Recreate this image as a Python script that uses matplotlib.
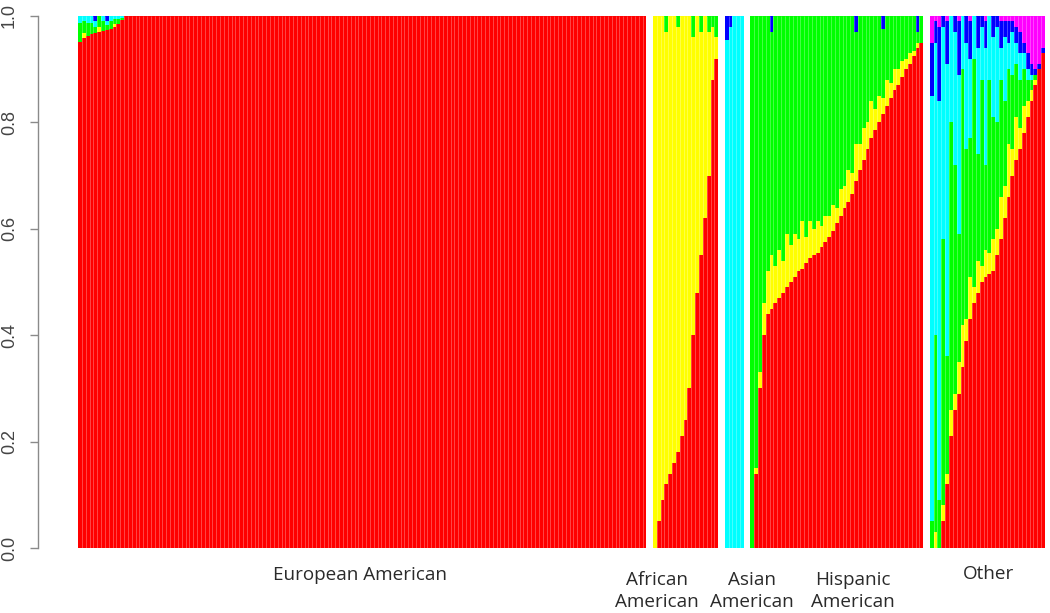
import numpy as np
import matplotlib.pyplot as plt

# ancestry proportions per individual, clusters K1..K6 (red, yellow, green, cyan, blue, magenta)
group_names = ["European American", "African\nAmerican", "Asian\nAmerican", "Hispanic\nAmerican", "Other"]
cluster_colors = ["#FF0000", "#FFFF00", "#00FF00", "#00FFFF", "#0000FF", "#FF00FF"]

# European American: 148 individuals, only the first 12 show admixture
eur_red = [0.952, 0.958, 0.962, 0.966, 0.968, 0.970, 0.972, 0.974, 0.976, 0.980, 0.985, 0.992] + [1.0] * 136
eur_yellow = [0.0, 0.01, 0.0, 0.0, 0.0, 0.01, 0.0, 0.0, 0.0, 0.005, 0.0, 0.0] + [0.0] * 136
eur_green = [0.035, 0.022, 0.025, 0.02, 0.012, 0.02, 0.018, 0.01, 0.014, 0.01, 0.01, 0.005] + [0.0] * 136
eur_cyan = [0.013, 0.01, 0.013, 0.014, 0.01, 0.0, 0.01, 0.006, 0.01, 0.005, 0.005, 0.003] + [0.0] * 136
eur_blue = [0.0, 0.0, 0.0, 0.0, 0.01, 0.0, 0.0, 0.01, 0.0, 0.0, 0.0, 0.0] + [0.0] * 136
eur_magenta = [0.0] * 148

# African American: 17 individuals
afr_red = [0.0, 0.05, 0.09, 0.12, 0.14, 0.16, 0.18, 0.21, 0.24, 0.30, 0.40, 0.48, 0.55, 0.62, 0.70, 0.88, 0.92]
afr_yellow = [1.0, 0.95, 0.91, 0.85, 0.86, 0.84, 0.80, 0.79, 0.76, 0.70, 0.56, 0.52, 0.42, 0.38, 0.27, 0.10, 0.04]
afr_green = [0.0, 0.0, 0.0, 0.03, 0.0, 0.0, 0.02, 0.0, 0.0, 0.0, 0.04, 0.0, 0.03, 0.0, 0.03, 0.02, 0.04]
afr_cyan = [0.0] * 17
afr_blue = [0.0] * 17
afr_magenta = [0.0] * 17

# Asian American: 5 individuals
asn_red = [0.0] * 5
asn_yellow = [0.0] * 5
asn_green = [0.0] * 5
asn_cyan = [0.955, 0.98, 1.0, 1.0, 1.0]
asn_blue = [0.045, 0.02, 0.0, 0.0, 0.0]
asn_magenta = [0.0] * 5

# Hispanic American: 45 individuals
his_red = [0.0, 0.14, 0.30, 0.40, 0.44, 0.45, 0.46, 0.47, 0.48, 0.49, 0.50, 0.51, 0.52, 0.525, 0.535,
           0.545, 0.55, 0.555, 0.565, 0.575, 0.585, 0.595, 0.61, 0.625, 0.64, 0.65, 0.665, 0.69, 0.71,
           0.73, 0.75, 0.77, 0.785, 0.80, 0.815, 0.83, 0.845, 0.86, 0.87, 0.885, 0.90, 0.91, 0.925, 0.94, 0.95]
his_yellow = [0.0, 0.01, 0.03, 0.06, 0.08, 0.10, 0.07, 0.09, 0.06, 0.10, 0.07, 0.08, 0.06, 0.09, 0.05,
              0.07, 0.05, 0.06, 0.04, 0.05, 0.04, 0.05, 0.03, 0.05, 0.04, 0.06, 0.04, 0.07, 0.05,
              0.06, 0.05, 0.07, 0.04, 0.05, 0.03, 0.05, 0.03, 0.04, 0.03, 0.03, 0.02, 0.02, 0.01, 0.01, 0.0]
his_green = [1.0, 0.85, 0.67, 0.54, 0.48, 0.42, 0.47, 0.44, 0.46, 0.41, 0.43, 0.41, 0.42, 0.385, 0.415,
             0.385, 0.40, 0.385, 0.395, 0.375, 0.375, 0.355, 0.36, 0.325, 0.32, 0.29, 0.295, 0.21, 0.24,
             0.21, 0.20, 0.16, 0.175, 0.15, 0.13, 0.12, 0.125, 0.10, 0.10, 0.085, 0.08, 0.07, 0.065, 0.02, 0.05]
his_cyan = [0.0] * 45
his_blue = [0.0] * 5 + [0.03] + [0.0] * 21 + [0.03] + [0.0] * 6 + [0.025] + [0.0] * 8 + [0.03] + [0.0]
his_magenta = [0.0] * 45

# Other: 30 individuals
oth_red = [0.0, 0.0, 0.0, 0.05, 0.12, 0.21, 0.26, 0.29, 0.34, 0.39, 0.43, 0.46, 0.48, 0.50, 0.51,
           0.515, 0.52, 0.55, 0.58, 0.62, 0.66, 0.70, 0.73, 0.75, 0.78, 0.81, 0.84, 0.87, 0.90, 0.93]
oth_yellow = [0.0, 0.03, 0.0, 0.03, 0.02, 0.05, 0.03, 0.06, 0.08, 0.04, 0.08, 0.03, 0.06, 0.03, 0.05,
              0.04, 0.06, 0.05, 0.08, 0.06, 0.10, 0.05, 0.08, 0.04, 0.05, 0.03, 0.02, 0.01, 0.0, 0.0]
oth_green = [0.05, 0.37, 0.09, 0.50, 0.22, 0.54, 0.43, 0.24, 0.48, 0.32, 0.26, 0.43, 0.20, 0.35, 0.16,
             0.325, 0.23, 0.20, 0.22, 0.16, 0.14, 0.14, 0.10, 0.09, 0.07, 0.04, 0.02, 0.01, 0.0, 0.0]
oth_cyan = [0.80, 0.55, 0.75, 0.40, 0.55, 0.20, 0.25, 0.30, 0.10, 0.20, 0.15, 0.08, 0.20, 0.10, 0.22,
            0.12, 0.15, 0.18, 0.06, 0.12, 0.05, 0.08, 0.04, 0.05, 0.03, 0.02, 0.01, 0.0, 0.0, 0.0]
oth_blue = [0.10, 0.04, 0.14, 0.02, 0.08, 0.0, 0.03, 0.10, 0.0, 0.05, 0.07, 0.0, 0.06, 0.02, 0.05,
            0.0, 0.04, 0.02, 0.05, 0.03, 0.04, 0.02, 0.03, 0.04, 0.02, 0.03, 0.02, 0.01, 0.01, 0.01]
oth_magenta = [0.05, 0.01, 0.02, 0.0, 0.01, 0.0, 0.0, 0.01, 0.0, 0.0, 0.01, 0.0, 0.0, 0.0, 0.01,
               0.0, 0.0, 0.0, 0.01, 0.01, 0.01, 0.01, 0.02, 0.03, 0.05, 0.07, 0.09, 0.10, 0.09, 0.06]

groups = [
    [eur_red, eur_yellow, eur_green, eur_cyan, eur_blue, eur_magenta],
    [afr_red, afr_yellow, afr_green, afr_cyan, afr_blue, afr_magenta],
    [asn_red, asn_yellow, asn_green, asn_cyan, asn_blue, asn_magenta],
    [his_red, his_yellow, his_green, his_cyan, his_blue, his_magenta],
    [oth_red, oth_yellow, oth_green, oth_cyan, oth_blue, oth_magenta],
]

# label placement in figure pixels (x centre, y centre)
label_pos = [(360, 575), (657, 591), (752, 591), (853, 591), (988, 574)]

W, H = 1050, 613
fig = plt.figure(figsize=(W / 100, H / 100), dpi=100)
ax = fig.add_axes([78 / W, 65 / H, 967 / W, 532 / H])

gap = 1.7
pos = 0.0
edges = []
for comps in groups:
    n = len(comps[0])
    x = pos + np.arange(n) + 0.5
    bottom = np.zeros(n)
    for vals, col in zip(comps, cluster_colors):
        vals = np.array(vals)
        ax.bar(x, vals, width=1.0, bottom=bottom, color=col, linewidth=0, antialiased=False)
        bottom += vals
    edges.extend(pos + np.arange(1, n))
    pos += n + gap

# faint light seams between neighbouring bars
ax.vlines(edges, 0, 1, color="white", alpha=0.28, linewidth=0.7)

ax.set_xlim(0, pos - gap)
ax.set_ylim(0, 1)
ax.set_xticks([])

for s in ["top", "right", "bottom"]:
    ax.spines[s].set_visible(False)
ax.spines["left"].set_position(("outward", 28.8))
ax.spines["left"].set_bounds(0, 1)
ax.spines["left"].set_color("#8a8a8a")
ax.spines["left"].set_linewidth(1.0)

ax.set_yticks([0, 0.2, 0.4, 0.6, 0.8, 1.0])
ax.set_yticklabels(["0.0", "0.2", "0.4", "0.6", "0.8", "1.0"], rotation=90, va="center",
                   fontsize=13, color="#444444", family="Liberation Sans")
ax.tick_params(axis="y", length=5.5, width=1.0, color="#8a8a8a", pad=9)

for name, (px, py) in zip(group_names, label_pos):
    fig.text(px / W, 1 - py / H, name, ha="center", va="center", fontsize=13.6,
             family="Open Sans", color="#2a2a2a", linespacing=1.3)

fig.savefig("out.png", dpi=100)
